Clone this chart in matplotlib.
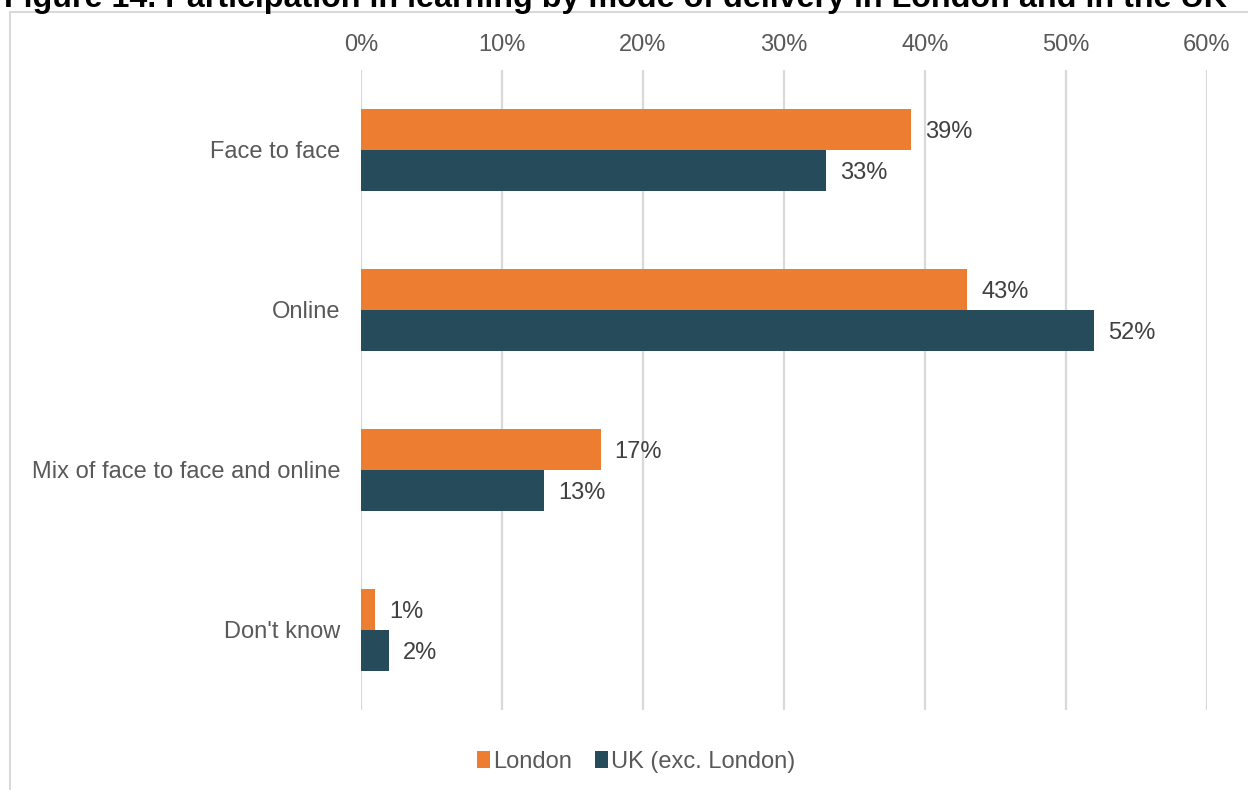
import matplotlib
matplotlib.use("Agg")
import matplotlib.pyplot as plt
from matplotlib.patches import Patch
from matplotlib.lines import Line2D
import numpy as np

plt.rcParams['font.family'] = ['Liberation Sans', 'DejaVu Sans']

# survey shares, % of learners
categories = ["Face to face", "Online", "Mix of face to face and online", "Don't know"]
london = [39, 43, 17, 1]
uk_exc_london = [33, 52, 13, 2]
series_names = ["London", "UK (exc. London)"]
x_ticks = [0, 10, 20, 30, 40, 50, 60]

ORANGE = "#ED7D31"
TEAL = "#264B5A"
GRID = "#D9D9D9"
TEXT = "#595959"
LABEL = "#404040"
FS = 17

W, H = 1248, 790
fig = plt.figure(figsize=(W / 100, H / 100), dpi=100)
ax = fig.add_axes([361 / W, 1 - 710 / H, (1207 - 361) / W, 640 / H])

y = np.arange(len(categories))
bh = 0.256
ax.barh(y - bh / 2, london, height=bh, color=ORANGE, zorder=3)
ax.barh(y + bh / 2, uk_exc_london, height=bh, color=TEAL, zorder=3)

for yy, v in zip(y - bh / 2, london):
    ax.annotate(f"{v}%", (v, yy), xytext=(10, -2), textcoords="offset points",
                va="center", ha="left", fontsize=FS, color=LABEL)
for yy, v in zip(y + bh / 2, uk_exc_london):
    ax.annotate(f"{v}%", (v, yy), xytext=(10, -2), textcoords="offset points",
                va="center", ha="left", fontsize=FS, color=LABEL)

ax.set_xlim(0, 60)
ax.set_ylim(len(categories) - 0.5, -0.5)
ax.set_xticks(x_ticks)
ax.set_xticklabels([f"{t}%" for t in x_ticks])
ax.xaxis.tick_top()
ax.tick_params(axis="x", length=0, pad=10, labelsize=FS, labelcolor=TEXT)
ax.set_yticks(y)
ax.set_yticklabels(categories)
ax.tick_params(axis="y", length=0, pad=15, labelsize=FS, labelcolor=TEXT)
ax.grid(axis="x", color=GRID, linewidth=1.6, zorder=0)
for s in ax.spines.values():
    s.set_visible(False)

handles = [Patch(facecolor=ORANGE), Patch(facecolor=TEAL)]
fig.legend(handles, series_names, loc="center", bbox_to_anchor=(636 / W, 1 - 762 / H),
           ncol=2, frameon=False, fontsize=FS, labelcolor=TEXT,
           handlelength=0.55, handleheight=0.7, handletextpad=0.12, columnspacing=1.0)

# chart area border (top and left edges)
fig.add_artist(Line2D([10 / W, 10 / W], [0, 1 - 12 / H], color=GRID, linewidth=1.5,
                      transform=fig.transFigure))
fig.add_artist(Line2D([10 / W, 1], [1 - 12 / H, 1 - 12 / H], color=GRID, linewidth=1.5,
                      transform=fig.transFigure))

# heading, partly cut off at the top edge
title = fig.text(4 / W, 1 - 7 / H, "Figure 14. Participation in learning by mode of delivery in London and in the UK",
                 fontsize=16, fontweight="bold", color="black", ha="left", va="baseline")
fig.canvas.draw()
tw = title.get_window_extent().width
title.set_fontsize(16 * 1221 / tw)

fig.savefig("out.png", dpi=100)
